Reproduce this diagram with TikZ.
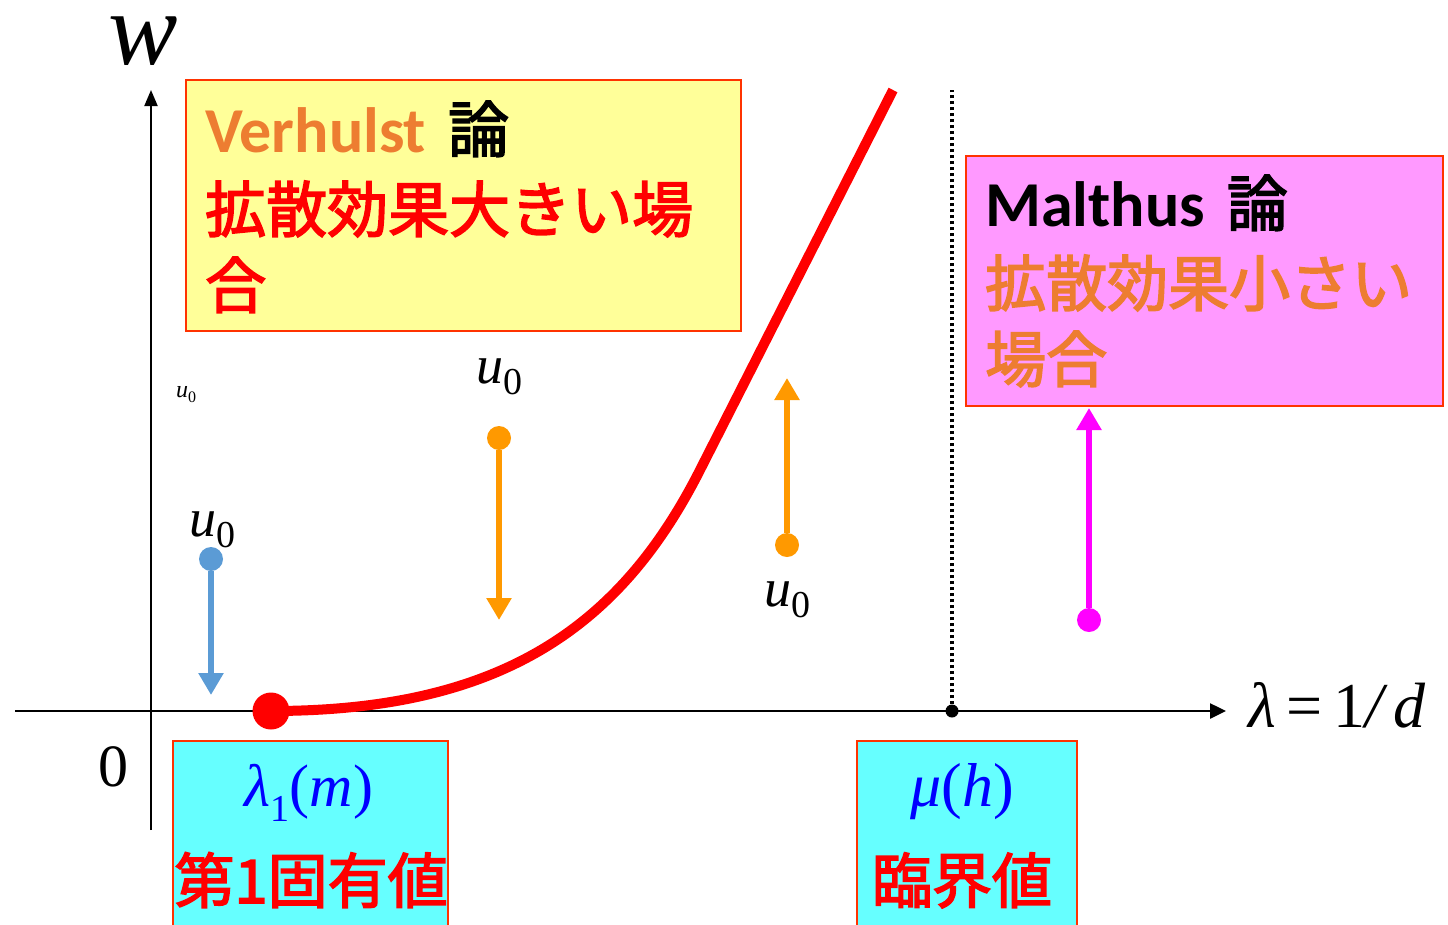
\documentclass[tikz,border=0pt]{standalone}
\usepackage{fontspec}
\setmainfont{Liberation Serif}
\newfontfamily\cjk{Noto Sans CJK JP}[FakeBold=2.6]
\newfontfamily\lat{Carlito}
\usetikzlibrary{arrows.meta}
\definecolor{vorange}{HTML}{ED7D31}
\definecolor{boxedge}{HTML}{FF3300}
\definecolor{yelfill}{HTML}{FFFF99}
\definecolor{magfill}{HTML}{FF99FF}
\definecolor{cyanfill}{HTML}{66FFFF}
\definecolor{arrblue}{HTML}{5B9BD5}
\definecolor{arrorange}{HTML}{FF9900}
\definecolor{arrmag}{HTML}{FF00FF}
\newcommand{\fs}[1]{\fontsize{#1}{#1}\selectfont}
\newcommand{\uzero}[2]{{\fs{#1}\textit{u}\raisebox{-0.22em}{\fs{#2}0}}}
\tikzset{
  panel/.style={draw=boxedge, line width=1.5pt, rectangle, inner sep=0pt, anchor=north west},
  jtext/.style={anchor=base west, inner sep=0pt, font=\cjk\fs{61}},
  ltext/.style={anchor=base west, inner sep=0pt},
  dotarrow/.style={line width=6.5pt, -{Triangle[length=22pt,width=24pt]}},
  startdot/.style={circle, inner sep=0pt, minimum size=24pt},
}
\begin{document}
\begin{tikzpicture}[x=1pt,y=-1pt]
\useasboundingbox (0,0) rectangle (1448,924);

% axes
\coordinate (xs) at (15,711);
\coordinate (xe) at (1226,711);
\coordinate (ys) at (151,830);
\coordinate (ye) at (151,90);
\draw[line width=2.5pt, -{Triangle[length=16pt,width=15pt]}] (xs) -- (xe);
\draw[line width=2pt, -{Triangle[length=16pt,width=13pt]}] (ys) -- (ye);
\node[ltext] (wlab) at (108,64) {\fs{104}\smash{\textit{w}}};
\node[ltext] (zero) at (98,786) {\fs{60}0};
\node[ltext] (lamlab) at (1248,727) {\fs{64}\textit{λ}\,=\,1\textit{/\,d}};

% critical value dotted line
\node[circle, fill=black, inner sep=0pt, minimum size=13pt] (crit) at (952,711) {};
\coordinate (crittop) at (952,90);
\draw[line width=3.5pt, dash pattern=on 3pt off 3pt] (crit) -- (crittop);

% boxes
\node[panel, fill=yelfill, minimum width=555pt, minimum height=251pt] (vbox) at (185,79) {};
\node[jtext] (v1) at (205,152) {{\lat\bfseries\fs{64}\color{vorange}Verhulst}\hspace{22pt}\color{black}論};
\node[jtext, text=red] (v2) at (205,232) {拡散効果大きい場};
\node[jtext, text=red] (v3) at (205,308) {合};

\node[panel, fill=magfill, minimum width=477pt, minimum height=250pt] (mbox) at (965,155) {};
\node[jtext] (m1) at (985,226) {{\lat\bfseries\fs{64}Malthus}\hspace{22pt}論};
\node[jtext, text=vorange] (m2) at (985,306) {拡散効果小さい};
\node[jtext, text=vorange] (m3) at (985,382) {場合};

\node[panel, fill=cyanfill, minimum width=275pt, minimum height=200pt] (c1) at (172,740) {};
\node[anchor=base, inner sep=0pt, text=blue] (c1a) at (309,806) {\fs{60}\textit{λ}\raisebox{-0.25em}{\fs{38}1}(\textit{m})};
\node[anchor=base, inner sep=0pt, text=red, font=\cjk\fs{60}] (c1b) at (311,903) {第1固有値};

\node[panel, fill=cyanfill, minimum width=220pt, minimum height=200pt] (c2) at (856,740) {};
\node[anchor=base, inner sep=0pt, text=blue] (c2a) at (962,806) {\fs{62}\textit{μ}(\textit{h})};
\node[anchor=base, inner sep=0pt, text=red, font=\cjk\fs{60}] (c2b) at (962,903) {臨界値};

% red curve
\coordinate (cbend) at (700,470);
\coordinate (ctop) at (893,90);
\draw[red, line width=10pt] (271,711) .. controls (500,711) and (620,628) .. (cbend) -- (ctop);
\node[circle, fill=red, inner sep=0pt, minimum size=37pt] (lam1) at (271,711) {};

% arrows
\node[startdot, fill=arrblue] (b0) at (211,559) {};
\coordinate (b1) at (211,695);
\draw[arrblue, dotarrow] (b0) -- (b1);
\node[ltext] (ub) at (189,536) {\uzero{54}{38}};

\node[startdot, fill=arrorange] (o0) at (499,438) {};
\coordinate (o1) at (499,620);
\draw[arrorange, dotarrow] (o0) -- (o1);
\node[ltext] (uo) at (476,383) {\uzero{54}{38}};

\node[startdot, fill=arrorange] (p0) at (787,545) {};
\coordinate (p1) at (787,378);
\draw[arrorange, dotarrow] (p0) -- (p1);
\node[ltext] (up) at (764,606) {\uzero{54}{38}};

\node[startdot, fill=arrmag] (q0) at (1089,620) {};
\coordinate (q1) at (1089,408);
\draw[arrmag, dotarrow] (q0) -- (q1);

\node[ltext] (utiny) at (176,397) {\uzero{24}{16}};
\end{tikzpicture}
\end{document}
